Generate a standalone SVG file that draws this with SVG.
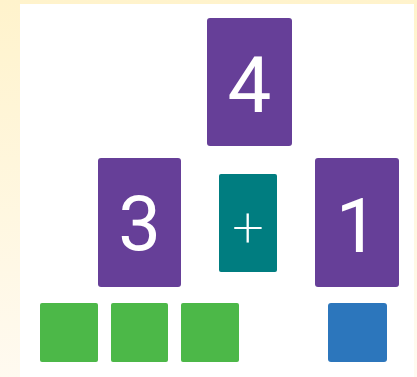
<svg xmlns="http://www.w3.org/2000/svg" width="417" height="377" viewBox="0 0 417 377">
<defs>
<linearGradient id="bg" x1="0" y1="0" x2="0" y2="1">
<stop offset="0" stop-color="#fff3cc"/>
<stop offset="1" stop-color="#fffaf0"/>
</linearGradient>
</defs>
<style>
.num{fill:#663f98}
.op{fill:#007d80}
.g{fill:#4cb848}
.b{fill:#2c76bc}
.t{font-family:"Roboto","Open Sans","DejaVu Sans",sans-serif;fill:#ffffff;text-anchor:middle}
</style>
<rect x="0" y="0" width="417" height="377" fill="url(#bg)"/>
<rect x="20" y="4" width="394" height="373" fill="#ffffff"/>
<g id="node-4"><rect class="num" x="207" y="18" width="85" height="128" rx="3"/><text class="t" x="249.5" y="112" font-size="78">4</text></g>
<g id="node-3"><rect class="num" x="98" y="158" width="83" height="129" rx="3"/><text class="t" x="139.5" y="250" font-size="76">3</text></g>
<g id="node-plus"><rect class="op" x="219" y="174" width="58" height="98" rx="2"/><text class="t" x="248" y="246" font-size="56" font-weight="200">+</text></g>
<g id="node-1"><rect class="num" x="315" y="158" width="84" height="129" rx="3"/><text class="t" x="357" y="252" font-size="76">1</text></g>
<g id="units-3">
<rect class="g" x="40" y="303" width="58" height="59" rx="2"/>
<rect class="g" x="111" y="303" width="57" height="59" rx="2"/>
<rect class="g" x="181" y="303" width="58" height="59" rx="2"/>
</g>
<g id="units-1"><rect class="b" x="328" y="303" width="59" height="59" rx="3"/></g>
<g id="connectors"></g>
</svg>
